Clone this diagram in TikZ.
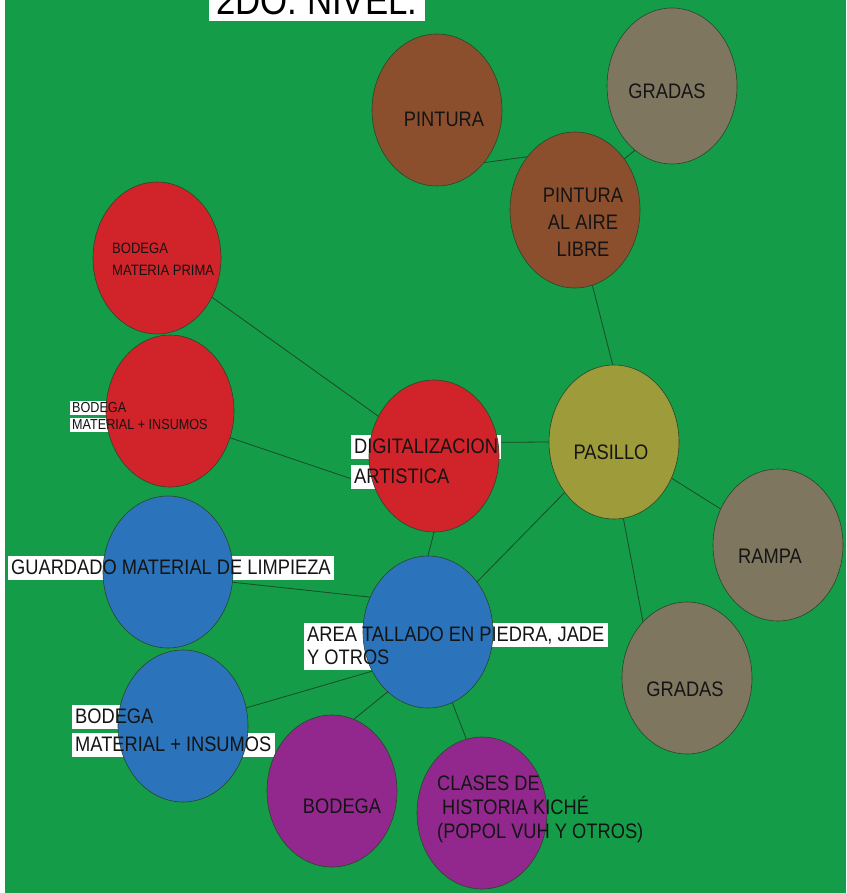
\documentclass[tikz,border=0pt]{standalone}
\usepackage{fontspec}
\setmainfont{Liberation Sans}
\newfontfamily\tallsans[FakeStretch=0.87]{Liberation Sans}
\usetikzlibrary{shapes.geometric}

\definecolor{lawn}{RGB}{21,156,72}
\definecolor{clay}{RGB}{139,79,46}
\definecolor{stone}{RGB}{127,118,96}
\definecolor{brick}{RGB}{209,35,42}
\definecolor{olive}{RGB}{157,155,58}
\definecolor{sky}{RGB}{43,116,187}
\definecolor{plum}{RGB}{146,40,141}
\definecolor{rim}{RGB}{40,70,40}
\definecolor{wire}{RGB}{25,75,40}
\definecolor{ink}{RGB}{20,20,20}

\pgfdeclarelayer{back}
\pgfdeclarelayer{under}
\pgfdeclarelayer{front}
\pgfsetlayers{back,under,main,front}

\begin{document}
\begin{tikzpicture}[x=1pt, y=-1pt,
  blob/.style={ellipse, draw=rim, line width=0.6pt, fill=#1, minimum width=130pt,
    minimum height=152pt, inner sep=0pt},
  link/.style={draw=wire, line width=0.8pt},
  big/.style={font=\tallsans\fontsize{21}{27}\selectfont, text=ink, inner sep=0pt, align=center},
  tag/.style={font=\tallsans\fontsize{21}{23}\selectfont, text=ink, anchor=west, inner xsep=3pt,
    inner ysep=2.5pt, text height=15pt, text depth=3pt},
  mini/.style={font=\tallsans\fontsize{14.5}{16}\selectfont, text=ink, anchor=west, inner xsep=2pt,
    inner ysep=0.5pt, text height=10.5pt, text depth=2.5pt}
]
  \useasboundingbox (0,0) rectangle (846,893);
  \begin{pgfonlayer}{back}
    \fill[white] (0,0) rectangle (846,893);
    \fill[lawn] (5,0) rectangle (846,893);
  \end{pgfonlayer}

  \node[blob=clay] (pint) at (437,110) {};
  \node[blob=stone, minimum height=156pt] (gradup) at (672,86) {};
  \node[blob=clay, minimum height=156pt] (libre) at (575,210) {};
  \node[blob=brick, minimum width=128pt] (prima) at (157,258) {};
  \node[blob=brick, minimum width=128pt] (insred) at (170,411) {};
  \node[blob=brick] (digital) at (434,456) {};
  \node[blob=olive, minimum height=154pt] (pasillo) at (614,442) {};
  \node[blob=stone] (rampa) at (778,545) {};
  \node[blob=stone] (graddown) at (687,678) {};
  \node[blob=sky] (limpieza) at (168,572) {};
  \node[blob=sky] (tallado) at (428,632) {};
  \node[blob=sky] (insblue) at (183,726) {};
  \node[blob=plum] (bodega) at (332,791) {};
  \node[blob=plum] (clases) at (482,813) {};

  \begin{pgfonlayer}{front}
    \node[font=\tallsans\fontsize{40}{40}\selectfont, text=black, anchor=base west, inner xsep=7.5pt,
      inner ysep=0pt, text depth=6pt] (title) at (208.5,15) {2DO. NIVEL.};
    \node[big] (tpint) at (444,119) {PINTURA};
    \node[big] (tgradup) at (667,91) {GRADAS};
    \node[big] (tlibre) at (583,222) {PINTURA\\AL AIRE\\LIBRE};
    \node[font=\tallsans\fontsize{15}{22}\selectfont, text=ink, anchor=west, align=left, inner sep=0pt]
      (tprima) at (112,259) {BODEGA\\MATERIA PRIMA};
    \node[mini] (tred1) at (70,408) {BODEGA};
    \node[mini] (tred2) at (70,425) {MATERIAL + INSUMOS};
    \node[tag] (tdig1) at (351,447) {DIGITALIZACION};
    \node[tag] (tdig2) at (351,477) {ARTISTICA};
    \node[big] (tpasillo) at (611,452) {PASILLO};
    \node[big] (trampa) at (770,556) {RAMPA};
    \node[big] (tgraddown) at (685,689) {GRADAS};
    \node[tag] (tlimp) at (8,568) {GUARDADO MATERIAL DE LIMPIEZA};
    \node[tag] (ttall1) at (304,635) {AREA TALLADO EN PIEDRA, JADE};
    \node[tag] (ttall2) at (304,658) {Y OTROS};
    \node[tag] (tins1) at (72,717) {BODEGA};
    \node[tag] (tins2) at (72,745) {MATERIAL + INSUMOS};
    \node[big] (tbodega) at (342,806) {BODEGA};
    \node[font=\tallsans\fontsize{21}{24}\selectfont, text=ink, anchor=west, align=left, inner sep=0pt]
      (tclases) at (437,809) {CLASES DE\\\hspace*{5pt}HISTORIA KICHÉ\\(POPOL VUH Y OTROS)};
  \end{pgfonlayer}

  \begin{pgfonlayer}{under}
    \draw[link] (pint.-48) -- (libre.132);
    \draw[link] (gradup.240) -- (libre.46);
    \draw[link] (libre.-77) -- (pasillo.91);
    \draw[link] (prima) -- (digital);
    \draw[link] (insred.-24) -- (digital.207);
    \draw[link] (digital.12) -- (pasillo.west);
    \draw[link] (digital.south) -- (tallado.north);
    \draw[link] (pasillo) -- (tallado);
    \draw[link] (pasillo) -- (rampa);
    \draw[link] (pasillo.-83) -- (graddown.128);
    \draw[link] (limpieza.-9) -- (tallado.149);
    \draw[link] (insblue.16) -- (tallado.215);
    \draw[link] (bodega.73) -- (tallado.236);
    \draw[link] (clases.102) -- (tallado.-71);

    \foreach \t in {title,tred1,tred2,tdig1,tdig2,tlimp,ttall1,ttall2,tins1,tins2}
      \fill[white] (\t.south west) rectangle (\t.north east);
  \end{pgfonlayer}
\end{tikzpicture}
\end{document}
